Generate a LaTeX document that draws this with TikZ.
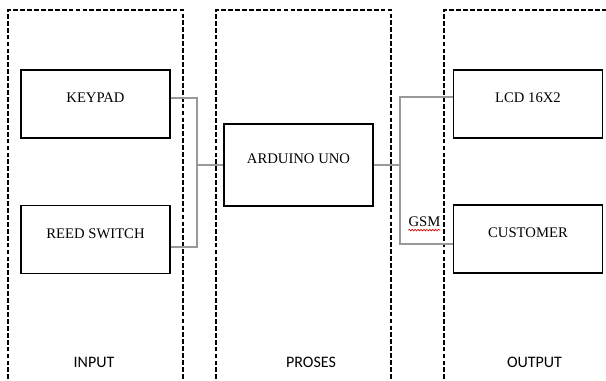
\documentclass[tikz,border=0pt]{standalone}
\usepackage{fontspec}
\newfontfamily\boxfont{Liberation Serif}
\newfontfamily\capfont{Carlito}
\usetikzlibrary{positioning,decorations.pathmorphing}

\begin{document}
\begin{tikzpicture}[
  x=0.75pt, y=-0.75pt,
  box/.style={draw, line width=1pt, minimum width=111.75pt, minimum height=51pt,
    text height=7.5pt, text depth=9.5pt, font=\boxfont\fontsize{11}{13}\selectfont},
  panel/.style={draw, line width=1pt, dash pattern=on 3.6pt off 1.6pt},
  wire/.style={draw=gray!80, line width=0.8pt},
  caption/.style={font=\capfont\fontsize{12}{14}\selectfont},
  squiggle/.style={draw=red!85!black, line width=0.5pt,
    decorate, decoration={snake, segment length=2.2pt, amplitude=0.6pt}}
]
\clip (0,0) rectangle (606,381);

% dashed blocks
\draw[panel] (8,400) -- (8,10) -- (183,10) -- (183,400);
\draw[panel] (216,400) -- (216,10) -- (391,10) -- (391,400);
\draw[panel] (444,400) -- (444,10) -- (620,10) -- (620,400);

\node[box] (keypad) at (95.5,104) {KEYPAD};
\node[box] (reed) at (95.5,239.5) {REED SWITCH};
\node[box, minimum height=61.5pt] (arduino) at (298.5,165) {ARDUINO UNO};
\node[box] (lcd) at (528,104) {LCD 16X2};
\node[box] (customer) at (528,239) {CUSTOMER};

\coordinate (inbus) at (197,165);
\coordinate (outbus) at (400,165);

\draw[wire] ([yshift=4.5pt]keypad.east) -| (inbus) |- ([yshift=-5.6pt]reed.east);
\draw[wire] (inbus) -- (arduino.west);
\draw[wire] (arduino.east) -- (outbus);
\draw[wire] ([yshift=5.25pt]lcd.west) -| (outbus) |- ([yshift=-3.75pt]customer.west);

\node[font=\boxfont\fontsize{11}{13}\selectfont, inner sep=0pt] (gsm) at (424.5,222) {GSM};
\draw[squiggle] ([yshift=-2.2pt]gsm.south west) -- ([yshift=-2.2pt]gsm.south east);

\node[caption] (input) at (94,362) {INPUT};
\node[caption] (proses) at (311,362) {PROSES};
\node[caption] (output) at (534.5,362) {OUTPUT};

\end{tikzpicture}
\end{document}
